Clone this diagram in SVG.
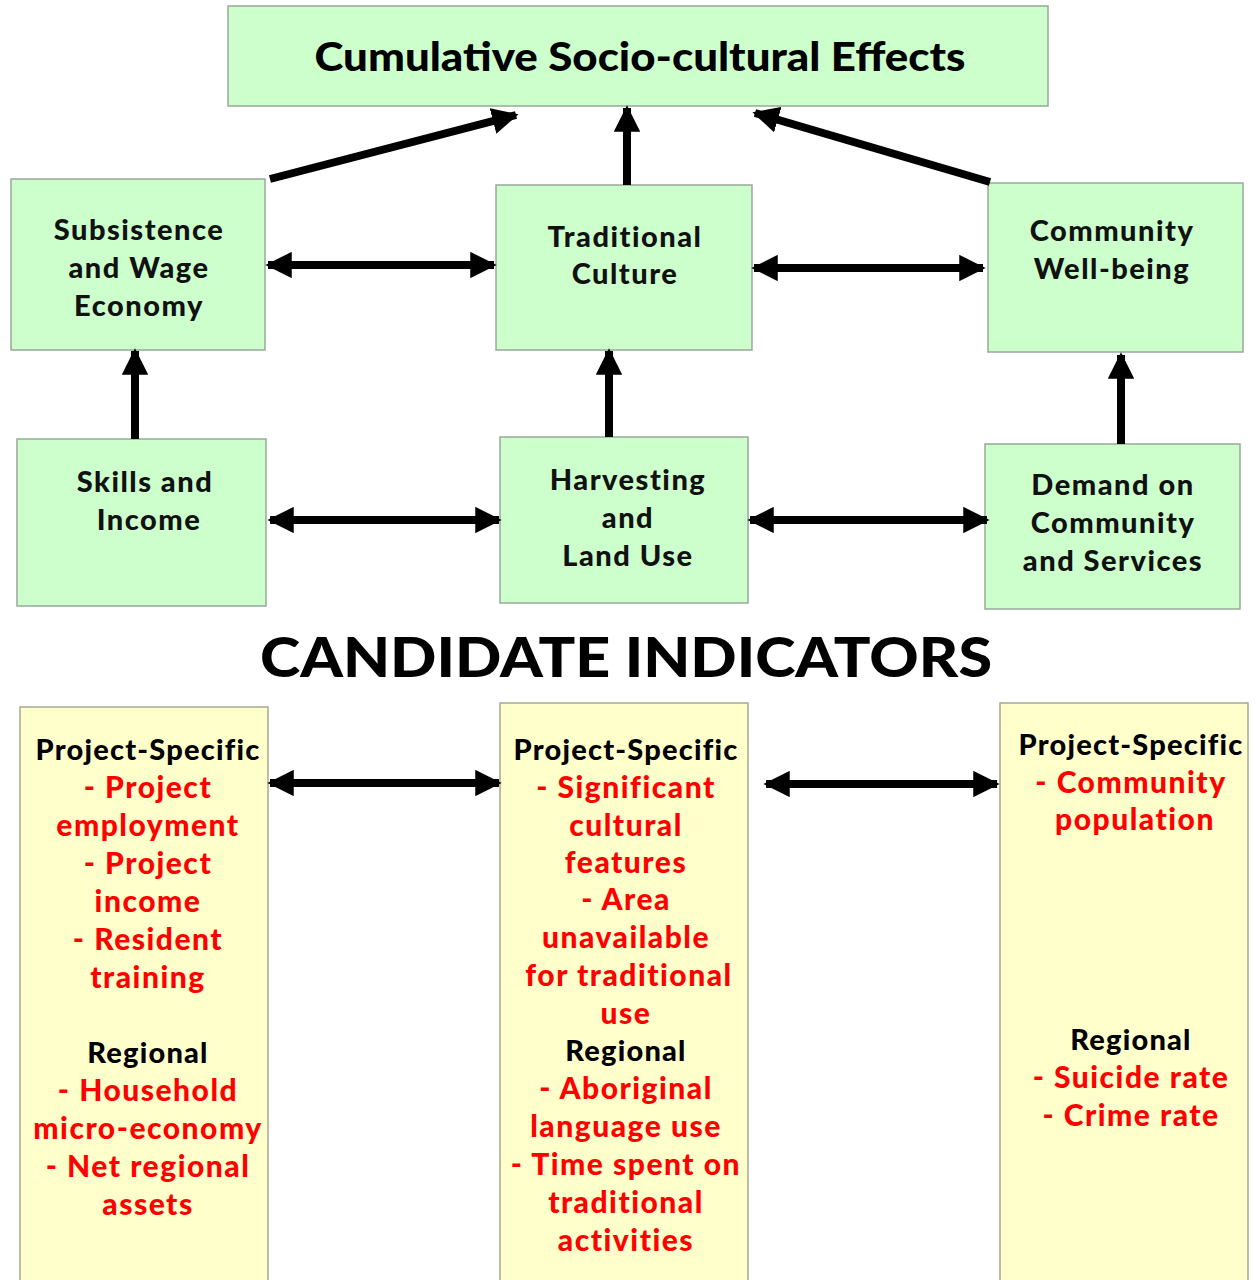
<svg xmlns="http://www.w3.org/2000/svg" width="1256" height="1280" viewBox="0 0 1256 1280">
<style>
.g{fill:#ccffcc;stroke:#9aa89a;stroke-width:1.5}
.y{fill:#ffffcc;stroke:#a8a890;stroke-width:1.5}
text{font-family:"Lato","Open Sans","Liberation Sans",sans-serif;font-weight:900;text-anchor:middle}
.n{font-size:29px;fill:#111;letter-spacing:1.5px}
.h{font-size:29px;fill:#000;letter-spacing:1.2px}
.r{font-size:30px;fill:#ff0000;letter-spacing:1.5px}
.c{stroke:#000;stroke-width:8;fill:none}
</style>
<defs>
<marker id="a" viewBox="0 0 10 10" refX="9" refY="5" markerWidth="3.3" markerHeight="3.3" orient="auto-start-reverse" markerUnits="strokeWidth">
<path d="M0,0 L10,5 L0,10 z" fill="#000"/>
</marker>
</defs>
<rect width="1256" height="1280" fill="#fff"/>
<g id="top"><rect class="g" x="228" y="6" width="820" height="100"/>
<text x="640" y="71" style="font-size:40px" textLength="651" lengthAdjust="spacingAndGlyphs">Cumulative Socio-cultural Effects</text></g>
<g id="subsistence"><rect class="g" x="11" y="179" width="254" height="171"/>
<text class="n" x="139" y="240">Subsistence</text><text class="n" x="139" y="278">and Wage</text><text class="n" x="139" y="316">Economy</text></g>
<g id="traditional"><rect class="g" x="496" y="185" width="256" height="165"/>
<text class="n" x="625" y="247">Traditional</text><text class="n" x="625" y="284">Culture</text></g>
<g id="wellbeing"><rect class="g" x="988" y="183" width="255" height="169"/>
<text class="n" x="1112" y="241">Community</text><text class="n" x="1112" y="279">Well-being</text></g>
<g id="skills"><rect class="g" x="17" y="439" width="249" height="167"/>
<text class="n" x="145" y="492">Skills and</text><text class="n" x="149" y="530">Income</text></g>
<g id="harvesting"><rect class="g" x="500" y="437" width="248" height="166"/>
<text class="n" x="628" y="490">Harvesting</text><text class="n" x="628" y="528">and</text><text class="n" x="628" y="566">Land Use</text></g>
<g id="demand"><rect class="g" x="985" y="444" width="255" height="165"/>
<text class="n" x="1113" y="495">Demand on</text><text class="n" x="1113" y="533">Community</text><text class="n" x="1113" y="571">and Services</text></g>
<text x="626" y="677" style="font-size:56px;font-weight:900" textLength="732" lengthAdjust="spacingAndGlyphs">CANDIDATE INDICATORS</text>
<g id="ind1"><rect class="y" x="20" y="707" width="248" height="580"/>
<text class="h" x="148" y="760">Project-Specific</text>
<text class="r" x="148" y="798">- Project</text><text class="r" x="148" y="836">employment</text>
<text class="r" x="148" y="874">- Project</text><text class="r" x="148" y="912">income</text>
<text class="r" x="148" y="950">- Resident</text><text class="r" x="148" y="988">training</text>
<text class="h" x="148" y="1063">Regional</text>
<text class="r" x="148" y="1101">- Household</text><text class="r" x="148" y="1139">micro-economy</text>
<text class="r" x="148" y="1177">- Net regional</text><text class="r" x="148" y="1215">assets</text></g>
<g id="ind2"><rect class="y" x="500" y="703" width="248" height="584"/>
<text class="h" x="626" y="760">Project-Specific</text>
<text class="r" x="626" y="798">- Significant</text><text class="r" x="626" y="836">cultural</text>
<text class="r" x="626" y="873">features</text><text class="r" x="626" y="910">- Area</text>
<text class="r" x="626" y="948">unavailable</text><text class="r" x="629" y="986">for traditional</text>
<text class="r" x="626" y="1024">use</text>
<text class="h" x="626" y="1061">Regional</text>
<text class="r" x="626" y="1099">- Aboriginal</text><text class="r" x="626" y="1137">language use</text>
<text class="r" x="626" y="1175">- Time spent on</text><text class="r" x="626" y="1213">traditional</text>
<text class="r" x="626" y="1251">activities</text></g>
<g id="ind3"><rect class="y" x="1000" y="703" width="248" height="584"/>
<text class="h" x="1131" y="755">Project-Specific</text>
<text class="r" x="1131" y="793">- Community</text><text class="r" x="1135" y="830">population</text>
<text class="h" x="1131" y="1050">Regional</text>
<text class="r" x="1131" y="1088">- Suicide rate</text><text class="r" x="1131" y="1126">- Crime rate</text></g>
<g id="connectors">
<line class="c" x1="270" y1="179" x2="516" y2="115" marker-end="url(#a)"/>
<line class="c" x1="627" y1="185" x2="627" y2="108" marker-end="url(#a)"/>
<line class="c" x1="990" y1="182" x2="755" y2="113" marker-end="url(#a)"/>
<line class="c" x1="268" y1="265" x2="494" y2="265" marker-start="url(#a)" marker-end="url(#a)"/>
<line class="c" x1="754" y1="268" x2="983" y2="268" marker-start="url(#a)" marker-end="url(#a)"/>
<line class="c" x1="270" y1="520" x2="499" y2="520" marker-start="url(#a)" marker-end="url(#a)"/>
<line class="c" x1="750" y1="520" x2="987" y2="520" marker-start="url(#a)" marker-end="url(#a)"/>
<line class="c" x1="270" y1="783" x2="499" y2="783" marker-start="url(#a)" marker-end="url(#a)"/>
<line class="c" x1="766" y1="784" x2="997" y2="784" marker-start="url(#a)" marker-end="url(#a)"/>
<line class="c" x1="135" y1="439" x2="135" y2="351" marker-end="url(#a)"/>
<line class="c" x1="609" y1="437" x2="609" y2="351" marker-end="url(#a)"/>
<line class="c" x1="1121" y1="444" x2="1121" y2="355" marker-end="url(#a)"/>
</g>
</svg>
